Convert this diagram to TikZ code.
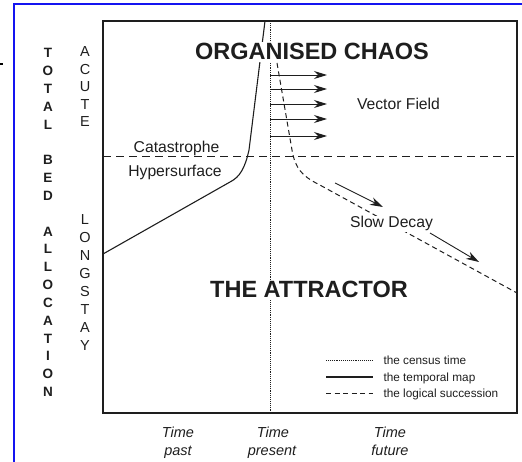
\documentclass[tikz,border=0pt]{standalone}
\usepackage{fontspec}
\setmainfont{Liberation Sans}
\usetikzlibrary{arrows.meta}
\definecolor{frameblue}{HTML}{1414F0}
\definecolor{ink}{HTML}{1E1E1E}

\begin{document}
\begin{tikzpicture}[x=1pt, y=-1pt, ink,
    vec/.style={-{Stealth[length=13pt, width=8pt]}, line width=0.9pt},
    dotline/.style={line width=0.7pt, dash pattern=on 0.8pt off 1.1pt},
    logicline/.style={line width=1pt, dash pattern=on 5pt off 3.5pt},
    surfline/.style={line width=1pt, dash pattern=on 8pt off 5pt},
    caps/.style={font=\fontsize{13.5}{16}\selectfont\bfseries},
    thin caps/.style={font=\fontsize{14.5}{16}\selectfont},
    big/.style={font=\fontsize{23.5}{26}\selectfont\bfseries, anchor=base,
      fill=white, inner sep=1.5pt},
    word/.style={font=\fontsize{15.7}{18}\selectfont, anchor=base},
    timelbl/.style={font=\fontsize{14.5}{17}\selectfont\itshape, anchor=base},
    legend/.style={font=\fontsize{11.8}{14}\selectfont, anchor=base west}]
    \useasboundingbox (0,0) rectangle (522,462);
    % outer frame, left and top only
    \draw[frameblue, line width=2pt] (14,462) -- (14,4) -- (522,4);
    \draw[black, line width=2pt] (0,64) -- (3,64);

    % plot area
    \coordinate (tl) at (103,21);
    \coordinate (br) at (517,413);
    \draw[line width=1.1pt] (tl) rectangle (br);

    % census time and catastrophe hypersurface
    \draw[dotline] (270,21) -- (270,413);
    \draw[surfline] (103,157) -- (517,157);

    % temporal map
    \draw[line width=1.1pt] (103,254) -- (230,182)
      .. controls (240,177) and (245,168) .. (249,150) -- (265,21);
    % logical succession
    \draw[logicline] (277,63) -- (292,150)
      .. controls (295,168) and (302,176) .. (318,184) -- (517,293);

    % vector field
    \foreach \y in {75,89,104,119,136}
      \draw[vec] (270,\y) -- (327,\y);
    \draw[vec] (335,183) -- (383,207);
    \draw[vec] (430,233) -- (479,262);

    % labels inside the plot
    \node[big] (chaos) at (312,60) {ORGANISED CHAOS};
    \node[big] (attractor) at (309,298) {THE ATTRACTOR};
    \node[word] (field) at (398.5,110) {Vector Field};
    \node[word] (cat) at (176.5,153) {Catastrophe};
    \node[word] (hyper) at (175,177) {Hypersurface};
    \node[word, fill=white, inner sep=0.5pt] (decay) at (391.5,228) {Slow Decay};

    % vertical axis words
    \foreach \ch [count=\i] in {T,O,T,A,L,{},B,E,D,{},A,L,L,O,C,A,T,I,O,N}
      \node[caps] (tba\i) at (48,{53+17.84*(\i-1)}) {\ch};
    \foreach \ch [count=\i] in {A,C,U,T,E}
      \node[thin caps] (acute\i) at (85,{52+17.5*(\i-1)}) {\ch};
    \foreach \ch [count=\i] in {L,O,N,G,S,T,A,Y}
      \node[thin caps] (long\i) at (85,{220+17.86*(\i-1)}) {\ch};

    % time axis
    \node[timelbl] (tpast) at (178,437) {Time};
    \node[timelbl] (past) at (178,455) {past};
    \node[timelbl] (tnow) at (273,437) {Time};
    \node[timelbl] (present) at (272,455) {present};
    \node[timelbl] (tfut) at (390,437) {Time};
    \node[timelbl] (future) at (390,455) {future};

    % legend
    \draw[dotline] (326,360) -- (373,360);
    \draw[line width=1.1pt] (326,377) -- (373,377);
    \draw[logicline] (326,393) -- (373,393);
    \node[legend] (lg1) at (380,364) {the census time};
    \node[legend] (lg2) at (380,381) {the temporal map};
    \node[legend] (lg3) at (380,397) {the logical succession};
  \end{tikzpicture}
\end{document}
